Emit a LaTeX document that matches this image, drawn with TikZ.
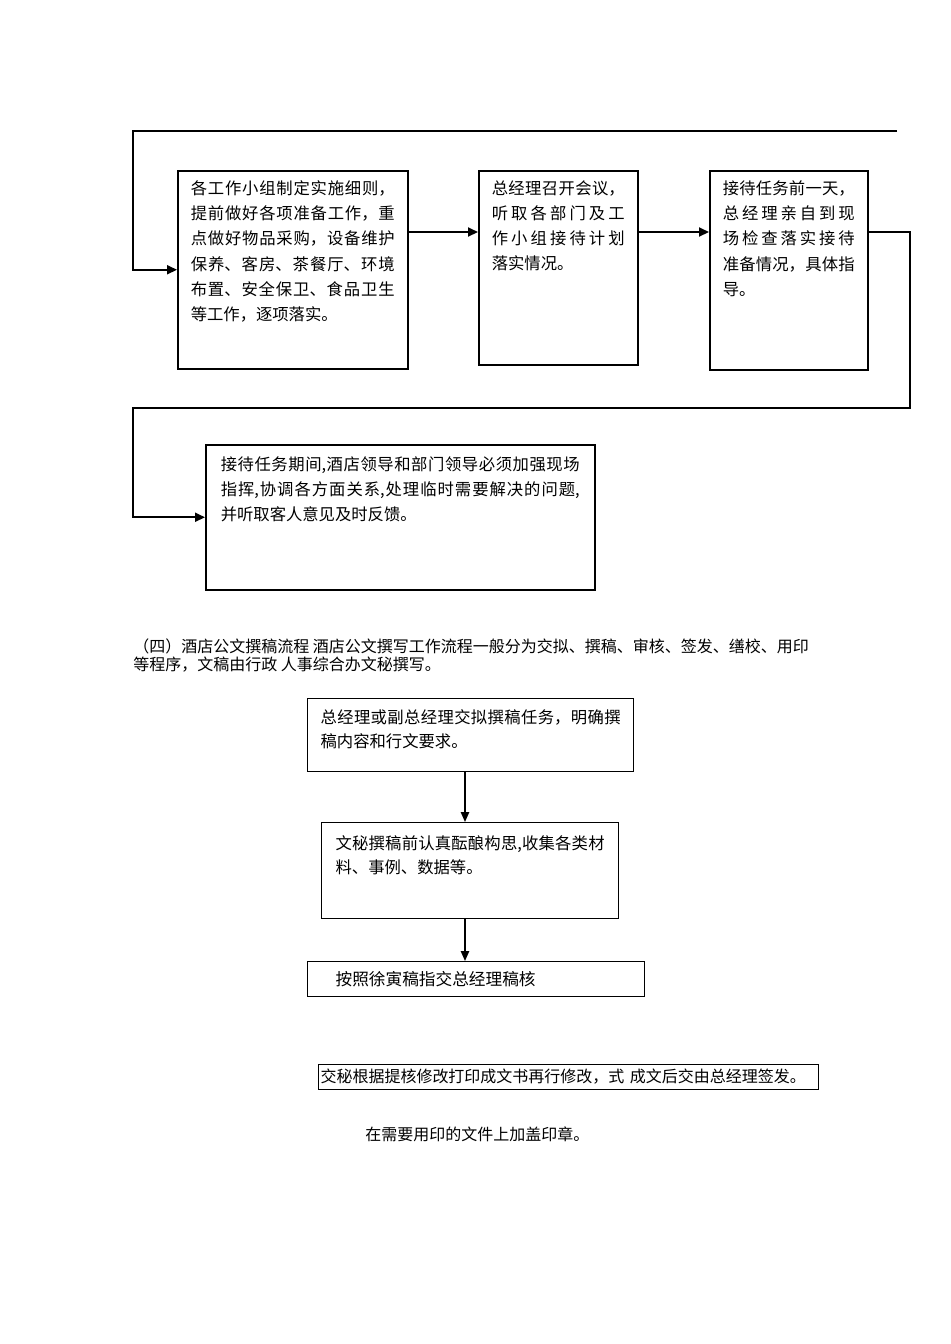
\documentclass[tikz,border=0pt]{standalone}
\usepackage{fontspec}
\newfontfamily\cjk{Noto Sans CJK SC}
\usepackage{tikz}
\usetikzlibrary{arrows.meta, positioning, calc}
\XeTeXlinebreaklocale "zh"
\XeTeXlinebreakskip=0pt plus 2pt

\newcommand{\boxtext}[3]{\begin{minipage}[t][#2][t]{#1}#3\end{minipage}}

\tikzset{
  stepbox/.style={draw, line width=0.9pt, anchor=north west, inner xsep=7.8pt, inner ysep=6pt, font=\cjk\fontsize{9.8}{15.1}\selectfont},
  flow/.style={line width=1.2pt, -{Triangle[length=6pt,width=5.4pt]}},
  docbox/.style={draw, line width=0.75pt, anchor=north west, font=\cjk\fontsize{9.8}{14.4}\selectfont},
  docflow/.style={line width=0.9pt, -{Triangle[length=6pt,width=5pt]}},
  note/.style={inner sep=0pt, font=\cjk\fontsize{9.6}{10.8}\selectfont},
}

\begin{document}
\begin{tikzpicture}[x=0.6pt, y=-0.6pt]
\useasboundingbox (0,0) rectangle (950,1344);

% reception steps
\node[stepbox] (plan) at (177,170) {\boxtext{122.4pt}{106.8pt}{各工作小组制定实施细则，\linebreak 提前做好各项准备工作，重\linebreak 点做好物品采购，设备维护\linebreak 保养、客房、茶餐厅、环境\linebreak 布置、安全保卫、食品卫生\linebreak 等工作，逐项落实。}};
\node[stepbox] (meet) at (478,170) {\boxtext{79.8pt}{104.4pt}{总经理召开会议，\linebreak 听取各部门及工\linebreak 作小组接待计划\linebreak 落实情况。}};
\node[stepbox] (check) at (709,170) {\boxtext{79.2pt}{107.4pt}{接待任务前一天，\linebreak 总经理亲自到现\linebreak 场检查落实接待\linebreak 准备情况，具体指\linebreak 导。}};
\node[stepbox, inner xsep=9pt, inner ysep=7.2pt] (duty) at (205,444) {\boxtext{215.4pt}{72.6pt}{接待任务期间,酒店领导和部门领导必须加强现场\linebreak 指挥,协调各方面关系,处理临时需要解决的问题,\linebreak 并听取客人意见及时反馈。}};

\coordinate (topleft) at (133,131);
\coordinate (topright) at (897,131);
\coordinate (turnright) at (910,408);
\coordinate (turnleft) at (133,408);

\draw[flow] (topright) -- (topleft) |- (plan.west);
\draw[flow] ($(plan.north east)+(0,62)$) -- ($(meet.north west)+(0,62)$);
\draw[flow] ($(meet.north east)+(0,62)$) -- ($(check.north west)+(0,62)$);
\draw[flow] ($(check.north east)+(0,62)$) -| (turnright) -- (turnleft) |- (duty.west);

% drafting steps
\node[note, anchor=north west, align=left] (intro) at (133,638) {（四）酒店公文撰稿流程 酒店公文撰写工作流程一般分为交拟、撰稿、审核、签发、缮校、用印\\等程序，文稿由行政 人事综合办文秘撰写。};

\node[docbox, inner xsep=7.8pt, inner ysep=6.6pt] (assign) at (307,698) {\boxtext{180pt}{30.6pt}{总经理或副总经理交拟撰稿任务，明确撰\linebreak 稿内容和行文要求。}};
\node[docbox, inner xsep=8.4pt, inner ysep=7.8pt] (draft) at (321,822) {\boxtext{161.4pt}{42pt}{文秘撰稿前认真酝酿构思,收集各类材\linebreak 料、事例、数据等。}};
\node[docbox, inner xsep=16.8pt, inner ysep=0pt, text width=168.6pt, minimum height=21pt, align=left, font=\cjk\fontsize{10}{12}\selectfont] (review) at (307,961) {按照徐寅稿指交总经理稿核};
\node[docbox, line width=0.6pt, inner xsep=1.2pt, inner ysep=0pt, text width=297.6pt, minimum height=15pt, align=left, font=\cjk\fontsize{9.6}{11}\selectfont] (sign) at (318,1064) {交秘根据提核修改打印成文书再行修改，式 成文后交由总经理签发。};
\node[note, anchor=west] (seal) at (365,1134) {在需要用印的文件上加盖印章。};

\coordinate (axis) at (465,0);
\draw[docflow] (assign.south -| axis) -- (draft.north -| axis);
\draw[docflow] (draft.south -| axis) -- (review.north -| axis);
\end{tikzpicture}
\end{document}
